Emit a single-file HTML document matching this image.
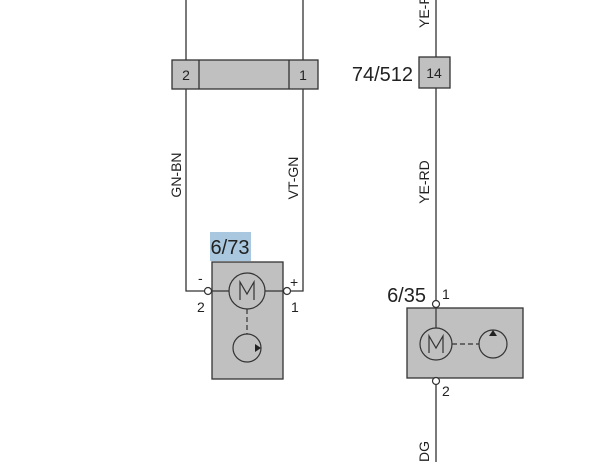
<!DOCTYPE html>
<html><head><style>body{margin:0;background:#fff}</style></head><body>
<svg width="607" height="462" xmlns="http://www.w3.org/2000/svg" font-family="Liberation Sans, sans-serif" fill="#222">
<g stroke="#333" stroke-width="1.3" fill="none">
<line x1="186" y1="0" x2="186" y2="60"/><line x1="303" y1="0" x2="303" y2="60"/>
<polyline points="186,89 186,291 204,291"/><polyline points="303,89 303,291 290,291"/>
<line x1="436" y1="0" x2="436" y2="57"/><line x1="436" y1="88" x2="436" y2="300"/>
<line x1="436" y1="385" x2="436" y2="462"/>
</g>
<rect x="172" y="60" width="146" height="29" fill="#c0c0c0" stroke="#333" stroke-width="1.3"/>
<line x1="199" y1="60" x2="199" y2="89" stroke="#333" stroke-width="1.3"/>
<line x1="289" y1="60" x2="289" y2="89" stroke="#333" stroke-width="1.3"/>
<text x="186" y="80" font-size="14" text-anchor="middle">2</text>
<text x="303" y="80" font-size="14" text-anchor="middle">1</text>
<rect x="419" y="57" width="31" height="31" fill="#c0c0c0" stroke="#333" stroke-width="1.3"/>
<text x="434" y="78" font-size="14" text-anchor="middle">14</text>
<text x="413" y="81" font-size="20" text-anchor="end">74/512</text>
<text transform="translate(181,175) rotate(-90)" font-size="14" text-anchor="middle">GN-BN</text>
<text transform="translate(298,178) rotate(-90)" font-size="14" text-anchor="middle">VT-GN</text>
<text transform="translate(429,182) rotate(-90)" font-size="14" text-anchor="middle">YE-RD</text>
<text transform="translate(429,28) rotate(-90)" font-size="14">YE-RD</text>
<text transform="translate(429,462) rotate(-90)" font-size="14">DG</text>
<rect x="210" y="232" width="41" height="29" fill="#a9c8df"/>
<text x="230" y="254" font-size="20" text-anchor="middle">6/73</text>
<rect x="212" y="262" width="71" height="117" fill="#c0c0c0" stroke="#333" stroke-width="1.3"/>
<g stroke="#333" stroke-width="1.2" fill="none">
<line x1="208" y1="291" x2="229" y2="291"/><line x1="265" y1="291" x2="286" y2="291"/>
<circle cx="247" cy="291" r="18"/>
<line x1="247" y1="309" x2="247" y2="334" stroke-dasharray="5,3"/>
<circle cx="247" cy="348" r="14"/>
<polyline points="240,300 240,282 247,294 254,282 254,300"/>
</g>
<polygon points="255,344 261,348 255,352" fill="#222"/>
<circle cx="208" cy="291" r="3.5" fill="#fff" stroke="#333" stroke-width="1.2"/>
<circle cx="287" cy="291" r="3.5" fill="#fff" stroke="#333" stroke-width="1.2"/>
<text x="198" y="283" font-size="14">-</text><text x="290" y="287" font-size="14">+</text>
<text x="197" y="312" font-size="14">2</text><text x="291" y="312" font-size="14">1</text>
<text x="426" y="302" font-size="20" text-anchor="end">6/35</text>
<text x="442" y="299" font-size="14">1</text>
<text x="442" y="396" font-size="14">2</text>
<rect x="407" y="308" width="116" height="70" fill="#c0c0c0" stroke="#333" stroke-width="1.3"/>
<g stroke="#333" stroke-width="1.2" fill="none">
<line x1="436" y1="304" x2="436" y2="328"/>
<circle cx="436" cy="344" r="16"/>
<polyline points="429,353 429,336 436,348 443,336 443,353"/>
<line x1="452" y1="344" x2="479" y2="344" stroke-dasharray="5,3"/>
<circle cx="493" cy="344" r="14"/>
</g>
<polygon points="489,336 493,330 497,336" fill="#222"/>
<circle cx="436" cy="304" r="3.5" fill="#fff" stroke="#333" stroke-width="1.2"/>
<circle cx="436" cy="381" r="3.5" fill="#fff" stroke="#333" stroke-width="1.2"/>
</svg>
</body></html>
